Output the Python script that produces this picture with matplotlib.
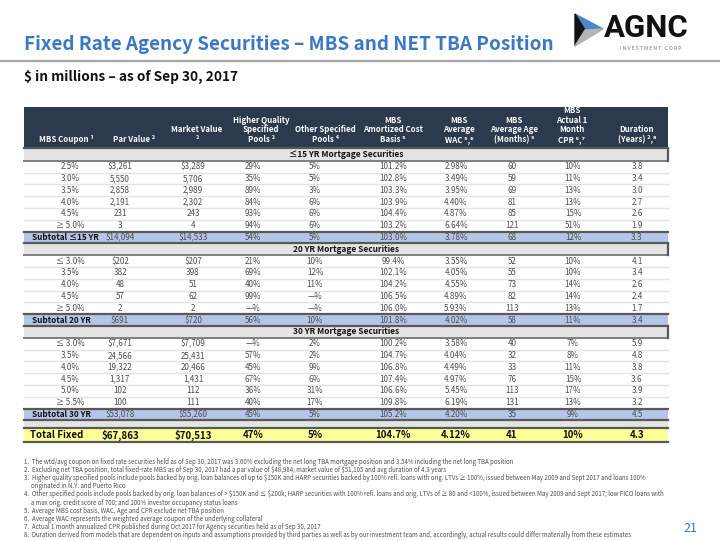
import matplotlib.pyplot as plt
from matplotlib.patches import Rectangle, Polygon

plt.rcParams['font.family'] = ['Noto Sans CJK KR', 'DejaVu Sans']
plt.rcParams['text.parse_math'] = False

title = 'Fixed Rate Agency Securities – MBS and NET TBA Position'
subtitle = '$ in millions – as of Sep 30, 2017'

headers = ['MBS Coupon ¹', 'Par Value ²', 'Market Value\n²', 'Higher Quality\nSpecified\nPools ³',
           'Other Specified\nPools ⁴', 'MBS\nAmortized Cost\nBasis ⁵', 'MBS\nAverage\nWAC ⁵,⁶',
           'MBS\nAverage Age\n(Months) ⁵', 'MBS\nActual 1\nMonth\nCPR ⁵,⁷', 'Duration\n(Years) ²,⁸']

sections = ['≤15 YR Mortgage Securities', '20 YR Mortgage Securities', '30 YR Mortgage Securities']

rows_15yr = [
    ['2.5%', '$3,261', '$3,289', '29%', '5%', '101.2%', '2.98%', '60', '10%', '3.8'],
    ['3.0%', '5,550', '5,706', '35%', '5%', '102.8%', '3.49%', '59', '11%', '3.4'],
    ['3.5%', '2,858', '2,989', '89%', '3%', '103.3%', '3.95%', '69', '13%', '3.0'],
    ['4.0%', '2,191', '2,302', '84%', '6%', '103.9%', '4.40%', '81', '13%', '2.7'],
    ['4.5%', '231', '243', '93%', '6%', '104.4%', '4.87%', '85', '15%', '2.6'],
    ['≥ 5.0%', '3', '4', '94%', '6%', '103.2%', '6.64%', '121', '51%', '1.9'],
]
subtotal_15yr = ['Subtotal ≤15 YR', '$14,094', '$14,533', '54%', '5%', '103.0%', '3.78%', '68', '12%', '3.3']

rows_20yr = [
    ['≤ 3.0%', '$202', '$207', '21%', '10%', '99.4%', '3.55%', '52', '10%', '4.1'],
    ['3.5%', '382', '398', '69%', '12%', '102.1%', '4.05%', '55', '10%', '3.4'],
    ['4.0%', '48', '51', '40%', '11%', '104.2%', '4.55%', '73', '14%', '2.6'],
    ['4.5%', '57', '62', '99%', '—%', '106.5%', '4.89%', '82', '14%', '2.4'],
    ['≥ 5.0%', '2', '2', '—%', '—%', '106.0%', '5.93%', '113', '13%', '1.7'],
]
subtotal_20yr = ['Subtotal 20 YR', '$691', '$720', '56%', '10%', '101.8%', '4.02%', '58', '11%', '3.4']

rows_30yr = [
    ['≤ 3.0%', '$7,671', '$7,709', '—%', '2%', '100.2%', '3.58%', '40', '7%', '5.9'],
    ['3.5%', '24,566', '25,431', '57%', '2%', '104.7%', '4.04%', '32', '8%', '4.8'],
    ['4.0%', '19,322', '20,466', '45%', '9%', '106.8%', '4.49%', '33', '11%', '3.8'],
    ['4.5%', '1,317', '1,431', '67%', '6%', '107.4%', '4.97%', '76', '15%', '3.6'],
    ['5.0%', '102', '112', '36%', '31%', '106.6%', '5.45%', '113', '17%', '3.9'],
    ['≥ 5.5%', '100', '111', '40%', '17%', '109.8%', '6.19%', '131', '13%', '3.2'],
]
subtotal_30yr = ['Subtotal 30 YR', '$53,078', '$55,260', '45%', '5%', '105.2%', '4.20%', '35', '9%', '4.5']

total_fixed = ['Total Fixed', '$67,863', '$70,513', '47%', '5%', '104.7%', '4.12%', '41', '10%', '4.3']

footnotes = [
    '1.  The wtd/avg coupon on fixed rate securities held as of Sep 30, 2017 was 3.60% excluding the net long TBA mortgage position and 3.54% including the net long TBA position',
    '2.  Excluding net TBA position, total fixed-rate MBS as of Sep 30, 2017 had a par value of $48,984, market value of $51,105 and avg duration of 4.3 years',
    '3.  Higher quality specified pools include pools backed by orig. loan balances of up to $150K and HARP securities backed by 100% refi. loans with orig. LTVs ≥ 100%, issued between May 2009 and Sept 2017 and loans 100%\n     originated in N.Y. and Puerto Rico',
    '4.  Other specified pools include pools backed by orig. loan balances of > $150K and ≤ $200k; HARP securities with 100% refi. loans and orig. LTVs of ≥ 80 and <100%, issued between May 2009 and Sept 2017; low FICO loans with\n     a max orig. credit score of 700; and 100% investor occupancy status loans',
    '5.  Average MBS cost basis, WAC, Age and CPR exclude net TBA position',
    '6.  Average WAC represents the weighted average coupon of the underlying collateral',
    '7.  Actual 1 month annualized CPR published during Oct 2017 for Agency securities held as of Sep 30, 2017',
    '8.  Duration derived from models that are dependent on inputs and assumptions provided by third parties as well as by our investment team and, accordingly, actual results could differ materially from these estimates',
]

col_x = [70, 120, 193, 253, 315, 393, 456, 512, 573, 637]
hdr_x = [66, 134, 197, 261, 325, 393, 459, 514, 572, 637]
tbl_left, tbl_right = 24, 668
navy = '#2c3a4e'
blue_title = '#3a78c2'
dark_line = '#595959'
txt_color = '#4d4d4d'

fig = plt.figure(figsize=(7.2, 5.4), dpi=100)
ax = fig.add_axes([0, 0, 1, 1])
ax.set_xlim(0, 720)
ax.set_ylim(540, 0)
ax.axis('off')

# title block
ax.text(24, 45, title, fontsize=13.6, color=blue_title, fontweight='bold', va='center', ha='left')
ax.plot([0, 720], [61, 61], color='#a6a6a6', lw=1.6)
ax.text(24, 77, subtitle, fontsize=9.8, fontweight='bold', color='#111111', va='center', ha='left')

# logo
ax.add_patch(Polygon([[575, 14], [603, 29], [585, 30]], closed=True, color='#4a86c8'))
ax.add_patch(Polygon([[575, 14], [585, 30], [575, 46]], closed=True, color='#111111'))
ax.add_patch(Polygon([[585, 30], [603, 29], [575, 46]], closed=True, color='#b3b3b3'))
ax.text(604, 28, 'AGNC', fontsize=22.5, fontweight='bold', color='#111111', va='center', ha='left',
        family='Roboto')
ax.text(651, 48, 'I N V E S T M E N T   C O R P', fontsize=3.7, color='#6b7f99', va='center', ha='center')

# header
hdr_top, hdr_bot = 107, 148
ax.add_patch(Rectangle((tbl_left, hdr_top), tbl_right - tbl_left, hdr_bot - hdr_top, color=navy, lw=0))
for x, h in zip(hdr_x, headers):
    ax.text(x, hdr_bot - 4, h, fontsize=5.7, color='white', fontweight='bold', ha='center', va='bottom',
            linespacing=1.1, multialignment='center')
ax.plot([tbl_left, tbl_right], [hdr_bot, hdr_bot], color=dark_line, lw=1.6)

rh = 11.8
y = hdr_bot + 1


def section_row(y, label):
    ax.add_patch(Rectangle((tbl_left, y), tbl_right - tbl_left, rh, color='#e4e4e4', lw=0))
    ax.text((tbl_left + tbl_right) / 2, y + rh / 2, label, fontsize=6, fontweight='bold', color='#111111',
            ha='center', va='center')
    ax.plot([tbl_left, tbl_right], [y + rh, y + rh], color='#7f7f7f', lw=1.4)
    ax.plot([tbl_right, tbl_right], [y, y + rh], color=dark_line, lw=1.6)


def data_row(y, row, last):
    for x, v in zip(col_x, row):
        ax.text(x, y + rh / 2, v, fontsize=5.8, color=txt_color, ha='center', va='center')
    if not last:
        ax.plot([tbl_left, tbl_right], [y + rh, y + rh], color='#e3e3e3', lw=1)


def subtotal_row(y, row):
    ax.add_patch(Rectangle((tbl_left, y), tbl_right - tbl_left, rh, color='#b4c6e7', lw=0))
    ax.text(tbl_left + 8, y + rh / 2, row[0], fontsize=5.9, fontweight='bold', color='#111111',
            ha='left', va='center')
    for x, v in zip(col_x[1:], row[1:]):
        ax.text(x, y + rh / 2, v, fontsize=5.8, color=txt_color, ha='center', va='center')
    ax.plot([tbl_left, tbl_right], [y, y], color=dark_line, lw=1.6)
    ax.plot([tbl_left, tbl_right], [y + rh, y + rh], color=dark_line, lw=1.6)


for label, rows, sub in zip(sections, [rows_15yr, rows_20yr, rows_30yr],
                            [subtotal_15yr, subtotal_20yr, subtotal_30yr]):
    section_row(y, label)
    y += rh
    for i, r in enumerate(rows):
        data_row(y, r, i == len(rows) - 1)
        y += rh
    subtotal_row(y, sub)
    y += rh

# gap row and total
ax.add_patch(Rectangle((tbl_left, y), tbl_right - tbl_left, 8, color='#e4e4e4', lw=0))
y += 8
th = 14
ax.add_patch(Rectangle((tbl_left, y), tbl_right - tbl_left, th, color='#ffff99', lw=0))
ax.plot([tbl_left, tbl_right], [y, y], color=dark_line, lw=1.6)
ax.plot([tbl_left, tbl_right], [y + th, y + th], color=dark_line, lw=1.6)
ax.text(tbl_left + 6, y + th / 2, total_fixed[0], fontsize=7, fontweight='bold', color='#111111',
        ha='left', va='center')
for x, v in zip(col_x[1:], total_fixed[1:]):
    ax.text(x, y + th / 2, v, fontsize=7, fontweight='bold', color='#111111', ha='center', va='center')

# footnotes, one text line each
fy = 462
for note in footnotes:
    for line in note.split('\n'):
        ax.text(24, fy, line, fontsize=4.4, color=txt_color, ha='left', va='center')
        fy += 8.1

ax.text(690, 528, '21', fontsize=9, color=blue_title, ha='center', va='center')

fig.savefig('out.png', dpi=100)
